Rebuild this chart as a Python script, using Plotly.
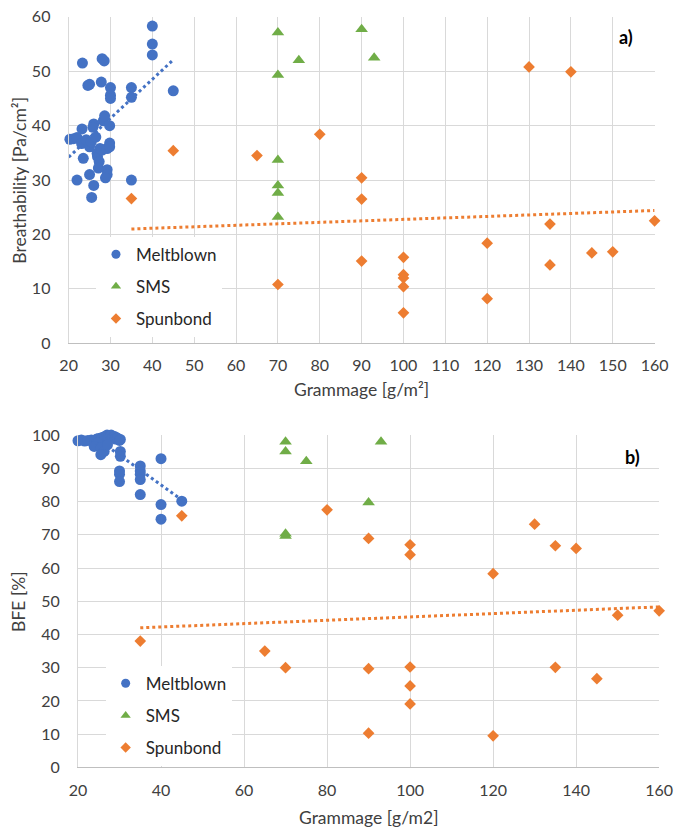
import plotly.graph_objects as go

# ---------------- data ----------------
# Panel a) Breathability [Pa/cm2] vs grammage
mb_a_x = [20.3, 21.2, 22.0, 22.0, 23.2, 23.3, 23.5, 23.1, 24.2, 24.6, 25.0, 25.0, 25.4, 25.0, 25.5, 26.0,
          25.8, 26.0, 26.5, 26.8, 26.9, 27.3, 27.1, 27.5, 28.0, 27.8, 28.0, 28.5, 28.3, 28.6, 29.2, 29.2,
          29.2, 28.8, 29.8, 29.8, 29.8, 30.0, 30.0, 30.0, 35.0, 35.0, 35.0, 40.0, 40.0, 40.0, 45.0]
mb_a_y = [37.5, 37.6, 37.8, 30.0, 39.4, 51.5, 34.0, 36.7, 37.4, 47.4, 47.6, 36.1, 37.0, 31.0, 26.8, 40.3,
          39.7, 29.0, 37.9, 34.9, 34.3, 33.4, 32.2, 35.8, 35.5, 48.0, 52.3, 51.9, 40.9, 41.8, 35.8, 31.9,
          31.0, 30.4, 40.0, 36.8, 36.1, 47.0, 45.6, 45.0, 47.0, 45.2, 30.0, 58.3, 55.0, 53.0, 46.4]

sms_a_x = [70, 70, 70, 70, 70, 70, 75, 90, 93]
sms_a_y = [57.1, 49.3, 33.7, 29.0, 27.6, 23.2, 52.0, 57.7, 52.5]

sp_x = [35, 45, 65, 70, 80, 90, 90, 90, 100, 100, 100, 100, 100, 120, 120, 130, 135, 135, 140, 145, 150, 160]
sp_a_y = [26.6, 35.4, 34.5, 10.8, 38.4, 30.4, 26.5, 15.1, 15.8, 12.6, 12.0, 10.4, 5.6, 18.4, 8.2, 50.8,
          21.9, 14.4, 49.9, 16.6, 16.8, 22.5]

# linear trendlines (value at start and end of the fitted range)
mb_a_trend_x = [20, 45]
mb_a_trend_y = [34.2, 52.1]
sp_a_trend_x = [35, 160]
sp_a_trend_y = [21.0, 24.4]

# Panel b) BFE [%] vs grammage
mb_b_x = [20.0, 20.8, 21.6, 22.4, 23.2, 24.0, 24.5, 25.0, 25.3, 25.8, 26.3, 26.5, 27.0, 27.3, 27.8, 28.0,
          28.3, 28.8, 29.0, 29.5, 30.0, 30.2, 24.7, 23.9, 25.5, 26.3, 25.5, 27.1, 30.2, 30.2, 30.0, 30.0,
          30.0, 35, 35, 35, 35, 35, 40, 40, 40, 45]
mb_b_y = [98.3, 98.5, 98.2, 98.4, 98.5, 98.3, 98.8, 99.0, 98.2, 99.3, 98.6, 99.6, 100.0, 99.3, 99.8, 100.0,
          99.2, 99.6, 98.8, 99.1, 98.4, 98.7, 97.6, 96.6, 96.1, 95.1, 94.1, 97.1, 95.1, 93.6, 89.2, 88.2,
          86.0, 90.7, 89.2, 88.2, 86.6, 82.1, 92.9, 79.1, 74.7, 80.1]

sms_b_x = [70, 70, 70, 70, 75, 90, 93]
sms_b_y = [98.0, 95.1, 70.3, 69.6, 92.1, 79.7, 98.0]

sp_b_y = [38.0, 75.7, 35.0, 30.0, 77.5, 68.9, 29.7, 10.3, 67.0, 64.0, 30.2, 24.5, 19.1, 58.3, 9.5, 73.2,
          66.7, 30.1, 65.9, 26.7, 45.8, 47.1]

mb_b_trend_x = [20, 45]
mb_b_trend_y = [103.0, 80.5]
sp_b_trend_x = [35, 160]
sp_b_trend_y = [42.0, 48.3]

series_names = ["Meltblown", "SMS", "Spunbond"]

# ---------------- style ----------------
W, H = 686, 835
BLUE, GREEN, ORANGE = "#4472C4", "#70AD47", "#ED7D31"
FONT = "Lato"
TXT = "#404040"
GRID = "#d9d9d9"


def px(xp):
    return xp / W


def py(yp):
    return 1 - yp / H


fig = go.Figure()

panels = [
    ("x", "y", "legend", [(mb_a_x, mb_a_y), (sms_a_x, sms_a_y), (sp_x, sp_a_y)],
     [(mb_a_trend_x, mb_a_trend_y, BLUE), (sp_a_trend_x, sp_a_trend_y, ORANGE)]),
    ("x2", "y2", "legend2", [(mb_b_x, mb_b_y), (sms_b_x, sms_b_y), (sp_x, sp_b_y)],
     [(mb_b_trend_x, mb_b_trend_y, BLUE), (sp_b_trend_x, sp_b_trend_y, ORANGE)]),
]
styles = [("circle", BLUE, 11), ("triangle-up", GREEN, 11), ("diamond", ORANGE, 9)]
legend_sizes = [9, 9, 8]

for xa, ya, lg, data, trends in panels:
    for tx, ty, col in trends:
        fig.add_trace(go.Scatter(x=tx, y=ty, mode="lines", xaxis=xa, yaxis=ya,
                                 line=dict(color=col, width=3, dash="dot"),
                                 showlegend=False, hoverinfo="skip"))
    for i, ((x, y), (sym, col, size)) in enumerate(zip(data, styles)):
        fig.add_trace(go.Scatter(x=x, y=y, mode="markers", name=series_names[i], xaxis=xa, yaxis=ya,
                                 marker=dict(symbol=sym, color=col, size=size, line=dict(width=0)),
                                 cliponaxis=False, showlegend=False))
        # legend entry (smaller symbol, as in the original legend)
        fig.add_trace(go.Scatter(x=[None], y=[None], mode="markers", name=series_names[i],
                                 xaxis=xa, yaxis=ya,
                                 marker=dict(symbol=sym, color=col, size=legend_sizes[i], line=dict(width=0)),
                                 legend=lg, legendgroup=f"{lg}{i}", showlegend=True))

axis_common = dict(showgrid=True, gridcolor=GRID, gridwidth=1, zeroline=False,
                   tickfont=dict(family=FONT, size=16, color=TXT), ticks="")

fig.update_layout(
    width=W, height=H,
    margin=dict(l=0, r=0, t=0, b=0),
    paper_bgcolor="white", plot_bgcolor="white",
    font=dict(family=FONT, color=TXT),
    xaxis=dict(domain=[px(61.7), px(668)], anchor="y", range=[20, 160], tick0=20, dtick=10,
               showline=True, linecolor="#bfbfbf", ticklabelstandoff=8, **axis_common),
    yaxis=dict(domain=[py(341), py(7)], anchor="x", range=[0, 60], tick0=0, dtick=10,
               showline=True, linecolor=GRID, ticklabelstandoff=14, **axis_common),
    xaxis2=dict(domain=[px(71.4), px(672.7)], anchor="y2", range=[20, 160], tick0=20, dtick=20,
                showline=True, linecolor="#bfbfbf", ticklabelstandoff=8, **axis_common),
    yaxis2=dict(domain=[py(775), py(435)], anchor="x2", range=[0, 100], tick0=0, dtick=10,
                showline=True, linecolor=GRID, ticklabelstandoff=14, **axis_common),
    legend=dict(x=px(90), y=py(232), xanchor="left", yanchor="top", bgcolor="white",
                font=dict(family=FONT, size=17, color="#262626"), tracegroupgap=7,
                traceorder="grouped"),
    legend2=dict(x=px(100), y=py(671), xanchor="left", yanchor="top", bgcolor="white",
                 font=dict(family=FONT, size=17, color="#262626"), tracegroupgap=7,
                 traceorder="grouped"),
    showlegend=True,
)

ann = [
    ("Breathability [Pa/cm²]", 10, 174, -90, 17.5, False),
    ("Grammage [g/m²]", 365, 388, 0, 17.5, False),
    ("BFE [%]", 10, 605, -90, 17.5, False),
    ("Grammage [g/m2]", 372, 826, 0, 17.5, False),
    ("a)", 638, 28, 0, 18, True),
    ("b)", 645, 457, 0, 18, True),
]
for text, xp, yp, ang, size, bold in ann:
    fig.add_annotation(text=f"<b>{text}</b>" if bold else text, xref="paper", yref="paper",
                       x=px(xp), y=py(yp), xanchor="center", yanchor="middle", textangle=ang,
                       showarrow=False, font=dict(family=FONT, size=size,
                                                  color="#000000" if bold else TXT))

fig.write_html("out.html", config={"displayModeBar": False},
               post_script="document.body.style.margin='0';document.body.style.overflow='hidden';")
